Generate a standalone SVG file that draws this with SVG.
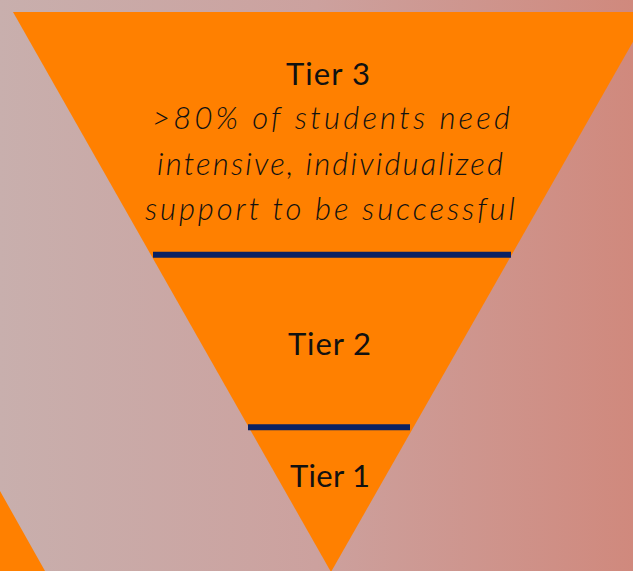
<svg xmlns="http://www.w3.org/2000/svg" width="633" height="571" viewBox="0 0 633 571">
<defs>
<linearGradient id="bg" x1="0" y1="0" x2="1" y2="0">
<stop offset="0" stop-color="#c8afad"/>
<stop offset="0.5" stop-color="#cca19e"/>
<stop offset="1" stop-color="#d0897d"/>
</linearGradient>
</defs>
<style>
.tier{font-family:Lato,"Open Sans",sans-serif;font-size:31px;fill:#111;text-anchor:start}
.desc{font-family:Lato,"Open Sans",sans-serif;font-style:italic;font-weight:300;font-size:31px;fill:#111}
.div{stroke:#0b2262;stroke-width:6}
</style>
<rect width="633" height="571" fill="url(#bg)"/>
<text x="350" y="-4" style="font-family:Lato,sans-serif;font-size:24px;fill:#111">g</text>
<polygon points="0,491 45,571 0,571" fill="#ff8000"/>
<g id="pyramid">
<polygon points="13,12 650,12 331,572" fill="#ff8000"/>
</g>
<g id="connectors">
<line class="div" x1="153" y1="254.7" x2="511" y2="254.7"/>
<line class="div" x1="248" y1="427.3" x2="410" y2="427.3"/>
</g>
<g id="tier3">
<text class="tier" x="286" y="85" textLength="84" lengthAdjust="spacing">Tier 3</text>
<text class="desc" x="152" y="129" textLength="358" lengthAdjust="spacing">&gt;80% of students need</text>
<text class="desc" x="157" y="175" textLength="346" lengthAdjust="spacing">intensive, individualized</text>
<text class="desc" x="145" y="220" textLength="370" lengthAdjust="spacing">support to be successful</text>
</g>
<g id="tier2">
<text class="tier" x="288" y="355" textLength="83" lengthAdjust="spacing">Tier 2</text>
</g>
<g id="tier1">
<text class="tier" x="290" y="487" textLength="80" lengthAdjust="spacing">Tier 1</text>
</g>
</svg>
